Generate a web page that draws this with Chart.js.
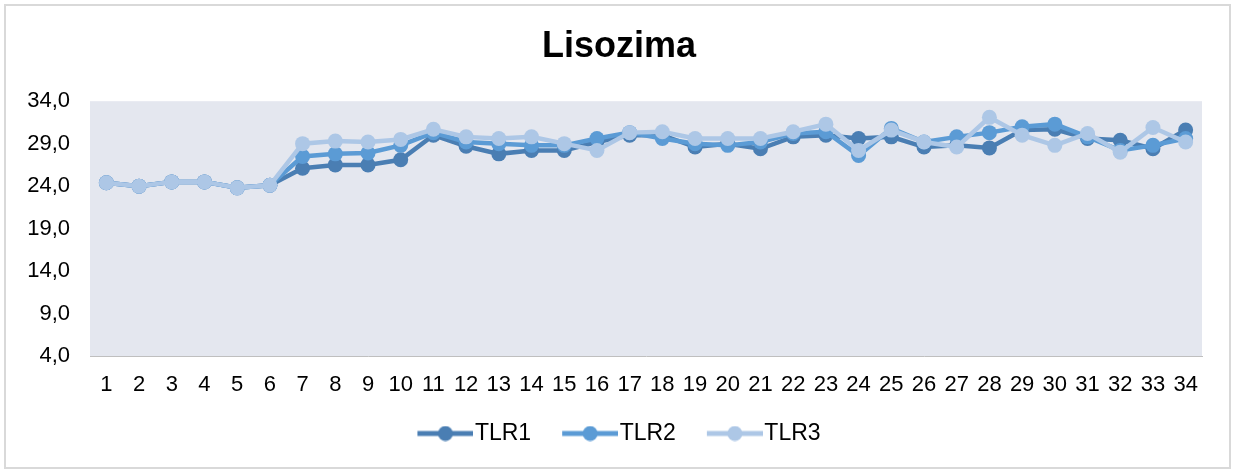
<!DOCTYPE html>
<html>
<head>
<meta charset="utf-8">
<script src="https://cdn.jsdelivr.net/npm/chart.js@4"></script>
<style>
  html, body { margin: 0; padding: 0; background: #fff; overflow: hidden; }
  #c { position: absolute; left: 0; top: 0; display: block; }
  #frame { position: absolute; left: 4px; top: 4px; width: 1227px; height: 465px; box-sizing: border-box; border: 2px solid #d9d9d9; pointer-events: none; }
</style>
</head>
<body>
<canvas id="c" width="1233" height="470"></canvas>
<div id="frame"></div>
<script>
const categories = ["1","2","3","4","5","6","7","8","9","10","11","12","13","14","15","16","17","18","19","20","21","22","23","24","25","26","27","28","29","30","31","32","33","34"];
const tlr1 = [24.4,24.0,24.5,24.5,23.8,24.1,26.1,26.5,26.5,27.1,30.0,28.7,27.8,28.2,28.2,29.2,30.0,30.0,28.6,29.0,28.4,29.8,30.0,29.6,29.8,28.6,28.8,28.5,30.6,30.7,29.6,29.4,28.4,30.6];
const tlr2 = [24.4,24.0,24.5,24.5,23.8,24.1,27.5,27.8,27.9,28.8,30.3,29.2,29.0,28.8,28.8,29.6,30.3,29.6,29.0,28.8,29.2,30.2,30.4,27.6,30.8,29.2,29.8,30.3,31.0,31.3,29.8,28.2,28.8,29.6];
const tlr3 = [24.4,24.0,24.5,24.5,23.8,24.1,29.0,29.3,29.2,29.5,30.7,29.8,29.6,29.8,29.0,28.2,30.3,30.4,29.6,29.6,29.6,30.4,31.3,28.2,30.6,29.2,28.6,32.1,30.0,28.8,30.2,28.0,30.9,29.2];
const seriesNames = ["TLR1", "TLR2", "TLR3"];
const colors = ["#4a7eb3", "#5b9bd5", "#adc7e6"];

// legend icon: line with a dot, drawn on the right part of a wider transparent image
function legendIcon(color) {
  const cv = document.createElement("canvas");
  cv.width = 86; cv.height = 16;
  const g = cv.getContext("2d");
  g.strokeStyle = color; g.lineWidth = 5; g.lineCap = "butt";
  g.beginPath(); g.moveTo(30, 8); g.lineTo(86, 8); g.stroke();
  g.fillStyle = color;
  g.beginPath(); g.arc(58, 8, 7.5, 0, Math.PI * 2); g.fill();
  return cv;
}
const icons = colors.map(legendIcon);

const plotBg = {
  id: "plotBg",
  beforeDraw(chart) {
    const a = chart.chartArea, ctx = chart.ctx;
    ctx.save();
    ctx.fillStyle = "#e4e7ef";
    ctx.fillRect(a.left, a.top, a.right - a.left, a.bottom - a.top);
    ctx.restore();
  },
  afterLayout(chart) {
    chart.legend.left += 8;
    chart.legend.right += 8;
    chart.titleBlock.left += 18;
    chart.titleBlock.right += 18;
  }
};

const font = "'Liberation Sans', Arial, sans-serif";
const data = [tlr1, tlr2, tlr3];

new Chart(document.getElementById("c"), {
  type: "line",
  data: {
    labels: categories,
    datasets: data.map((d, i) => ({
      label: seriesNames[i],
      data: d,
      order: 2 - i,
      borderColor: colors[i],
      backgroundColor: colors[i],
      pointBackgroundColor: colors[i],
      pointBorderColor: colors[i],
      borderWidth: 4.5,
      pointRadius: 7.5,
      pointBorderWidth: 0,
      tension: 0
    }))
  },
  options: {
    responsive: false,
    animation: false,
    layout: { padding: { left: 0, right: 31, top: 0, bottom: 15 } },
    plugins: {
      title: {
        display: true,
        text: "Lisozima",
        color: "#000",
        font: { family: font, size: 36, weight: "bold" },
        padding: { top: 25, bottom: 33 }
      },
      legend: {
        position: "bottom",
        labels: {
          color: "#000",
          font: { family: font, size: 23 },
          usePointStyle: true,
          pointStyleWidth: 66,
          boxHeight: 16,
          padding: 11,
          generateLabels(chart) {
            return seriesNames.map((name, i) => ({
              text: name,
              pointStyle: icons[i],
              fillStyle: colors[i],
              strokeStyle: colors[i],
              lineWidth: 0,
              datasetIndex: i,
              hidden: false,
              fontColor: "#000"
            }));
          }
        }
      },
      tooltip: { enabled: false }
    },
    scales: {
      x: {
        offset: true,
        grid: { display: false, drawTicks: false, offset: true },
        border: { display: true, color: "#bfbfbf", width: 1 },
        ticks: { color: "#000", font: { family: font, size: 22 }, padding: 16, maxRotation: 0, autoSkip: false },
        afterFit(scale) { scale.height = 55; }
      },
      y: {
        min: 4,
        max: 34,
        grid: { display: false, drawTicks: false },
        border: { display: false },
        ticks: {
          stepSize: 5,
          color: "#000",
          padding: 20,
          font: { family: font, size: 22 },
          callback: (v) => v.toFixed(1).replace(".", ",")
        },
        afterFit(scale) { scale.width = 90; }
      }
    }
  },
  plugins: [plotBg]
});
</script>
</body>
</html>
